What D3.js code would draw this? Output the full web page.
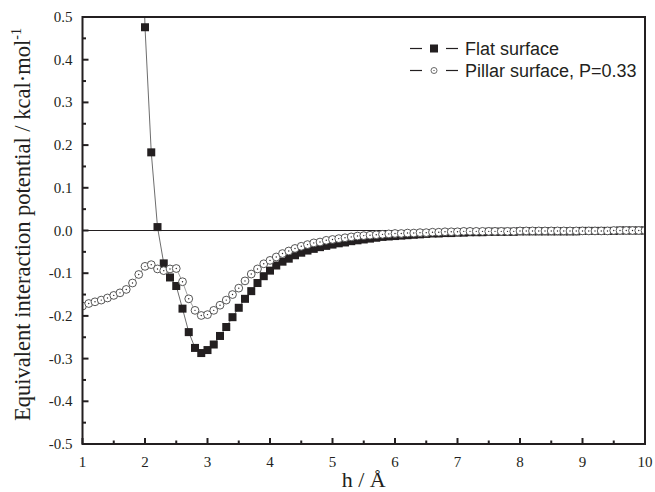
<!DOCTYPE html>
<html lang="en">
<head>
    <meta charset="UTF-8">
    <title>Equivalent interaction potential</title>
    <style>
        body { margin: 0; background: #fff; }
        svg { display: block; }
        .tick-label { font-family: "Liberation Serif", "Times New Roman", serif; font-size: 15px; fill: #231f20; }
        .axis-title { font-family: "Liberation Serif", "Times New Roman", serif; fill: #231f20; }
        .legend text { font-family: "Liberation Sans", Arial, sans-serif; font-size: 18px; fill: #231f20; }
    </style>
</head>
<body>

<svg width="655" height="492"></svg>

<script src="https://d3js.org/d3.v7.min.js"></script>
<script>
    // Flat surface: h = 1.9 .. 10.0 step 0.1 (first point lies above the plot and is clipped)
    const flatStart = 1.9;
    const flatValues = [
        1.05, 0.476, 0.183, 0.008, -0.077, -0.110, -0.130, -0.183, -0.238, -0.275,
        -0.287, -0.280, -0.267, -0.247, -0.226, -0.203, -0.181, -0.160, -0.142, -0.123,
        -0.107, -0.094, -0.082, -0.073, -0.066, -0.058, -0.052, -0.047, -0.043, -0.039,
        -0.036, -0.033, -0.030, -0.028, -0.025, -0.023, -0.021, -0.019, -0.017, -0.015,
        -0.014, -0.013, -0.012, -0.011, -0.010, -0.009, -0.008, -0.007, -0.007, -0.006,
        -0.006, -0.005, -0.005, -0.004, -0.004, -0.004, -0.003, -0.003, -0.003, -0.003,
        -0.003, -0.002, -0.002, -0.002, -0.002, -0.002, -0.002, -0.002, -0.002, -0.002,
        -0.002, -0.001, -0.001, -0.001, -0.001, -0.001, -0.001, 0.000, 0.000, 0.000,
        0.000, 0.000
    ];

    // Pillar surface, P=0.33: h = 1.0 .. 10.0 step 0.1
    const pillarStart = 1.0;
    const pillarValues = [
        -0.177, -0.171, -0.167, -0.163, -0.158, -0.152, -0.146, -0.138, -0.123, -0.103,
        -0.084, -0.080, -0.090, -0.094, -0.090, -0.089, -0.120, -0.160, -0.187, -0.199,
        -0.197, -0.187, -0.175, -0.163, -0.150, -0.135, -0.118, -0.102, -0.090, -0.078,
        -0.070, -0.062, -0.054, -0.048, -0.042, -0.037, -0.033, -0.029, -0.027, -0.023,
        -0.021, -0.019, -0.017, -0.015, -0.013, -0.012, -0.011, -0.010, -0.009, -0.008,
        -0.007, -0.007, -0.006, -0.006, -0.005, -0.005, -0.004, -0.004, -0.003, -0.003,
        -0.003, -0.002, -0.002, -0.002, -0.002, -0.002, -0.002, -0.002, -0.002, -0.002,
        -0.001, -0.001, -0.001, -0.001, -0.001, -0.001, -0.001, -0.001, -0.001, -0.001,
        -0.001, -0.001, -0.001, -0.001, -0.001, 0.000, 0.000, 0.000, 0.000, 0.000,
        0.000
    ];

    const xTicks = [1, 2, 3, 4, 5, 6, 7, 8, 9, 10];
    const yTicks = [-0.5, -0.4, -0.3, -0.2, -0.1, 0.0, 0.1, 0.2, 0.3, 0.4, 0.5];
    const legendLabels = ["Flat surface", "Pillar surface, P=0.33"];

    const flat = flatValues.map((v, i) => ({ h: +(flatStart + i * 0.1).toFixed(1), v: v }));
    const pillar = pillarValues.map((v, i) => ({ h: +(pillarStart + i * 0.1).toFixed(1), v: v }));

    const pLeft = 82.5, pRight = 645, pTop = 17, pBottom = 444;
    const x = d3.scaleLinear().domain([1, 10]).range([pLeft, pRight]);
    const y = d3.scaleLinear().domain([-0.5, 0.5]).range([pBottom, pTop]);

    const svg = d3.select('svg');
    const ink = "#231f20";

    svg.append('defs').append('clipPath').attr('id', 'plot-clip')
        .append('rect').attr('x', pLeft).attr('y', pTop).attr('width', pRight - pLeft).attr('height', pBottom - pTop);

    // zero line
    svg.append('line')
        .attr('x1', pLeft).attr('x2', pRight)
        .attr('y1', y(0)).attr('y2', y(0))
        .attr('stroke', ink).attr('stroke-width', 1.2);

    const plot = svg.append('g').attr('clip-path', 'url(#plot-clip)');
    const line = d3.line().x(d => x(d.h)).y(d => y(d.v));

    plot.append('path').datum(flat)
        .attr('d', line).attr('fill', 'none')
        .attr('stroke', '#6d6d6d').attr('stroke-width', 1);

    plot.append('g').selectAll('rect').data(flat).enter().append('rect')
        .attr('x', d => x(d.h) - 4).attr('y', d => y(d.v) - 4)
        .attr('width', 8).attr('height', 8)
        .attr('fill', ink);

    plot.append('path').datum(pillar)
        .attr('d', line).attr('fill', 'none')
        .attr('stroke', '#8a8a8a').attr('stroke-width', 0.8);

    const pts = plot.append('g').selectAll('g').data(pillar).enter().append('g')
        .attr('transform', d => `translate(${x(d.h)},${y(d.v)})`);
    pts.append('circle').attr('r', 3.9)
        .attr('fill', '#fff').attr('stroke', '#444').attr('stroke-width', 0.9);
    pts.append('circle').attr('r', 0.7).attr('fill', ink);

    // axes frame
    svg.append('rect')
        .attr('x', pLeft).attr('y', pTop).attr('width', pRight - pLeft).attr('height', pBottom - pTop)
        .attr('fill', 'none').attr('stroke', ink).attr('stroke-width', 2);

    // x ticks (inward, with minor halves)
    const xAxis = svg.append('g');
    xTicks.forEach((t, i) => {
        xAxis.append('line').attr('x1', x(t)).attr('x2', x(t))
            .attr('y1', pBottom).attr('y2', pBottom - 6)
            .attr('stroke', ink).attr('stroke-width', 2);
        xAxis.append('text').attr('class', 'tick-label')
            .attr('x', x(t)).attr('y', pBottom + 23)
            .attr('text-anchor', 'middle').text(t);
        if (i < xTicks.length - 1) {
            const m = (t + xTicks[i + 1]) / 2;
            xAxis.append('line').attr('x1', x(m)).attr('x2', x(m))
                .attr('y1', pBottom).attr('y2', pBottom - 3.5)
                .attr('stroke', ink).attr('stroke-width', 2);
        }
    });

    // y ticks
    const yAxis = svg.append('g');
    yTicks.forEach((t, i) => {
        yAxis.append('line').attr('x1', pLeft).attr('x2', pLeft + 6)
            .attr('y1', y(t)).attr('y2', y(t))
            .attr('stroke', ink).attr('stroke-width', 2);
        yAxis.append('text').attr('class', 'tick-label')
            .attr('x', pLeft - 10).attr('y', y(t) + 5)
            .attr('text-anchor', 'end').text(t.toFixed(1));
        if (i < yTicks.length - 1) {
            const m = (t + yTicks[i + 1]) / 2;
            yAxis.append('line').attr('x1', pLeft).attr('x2', pLeft + 3.5)
                .attr('y1', y(m)).attr('y2', y(m))
                .attr('stroke', ink).attr('stroke-width', 2);
        }
    });

    // axis titles
    svg.append('text').attr('class', 'axis-title')
        .attr('x', (pLeft + pRight) / 2).attr('y', 487)
        .attr('text-anchor', 'middle').attr('font-size', 22)
        .text('h / Å');

    const yTitle = svg.append('text').attr('class', 'axis-title')
        .attr('transform', `translate(30,${(pTop + pBottom) / 2 - 6}) rotate(-90)`)
        .attr('text-anchor', 'middle').attr('font-size', 22.5);
    yTitle.append('tspan').text('Equivalent interaction potential / kcal·mol');
    yTitle.append('tspan').attr('dy', -9).attr('font-size', 14).text('-1');

    // legend
    const legend = svg.append('g').attr('class', 'legend');
    const rows = [55, 77];
    legendLabels.forEach((label, i) => {
        const cy = rows[i] - 6.5;
        legend.append('line').attr('x1', 410).attr('x2', 422).attr('y1', cy).attr('y2', cy)
            .attr('stroke', ink).attr('stroke-width', 1.2);
        legend.append('line').attr('x1', 446).attr('x2', 458).attr('y1', cy).attr('y2', cy)
            .attr('stroke', ink).attr('stroke-width', 1.2);
        if (i === 0) {
            legend.append('rect').attr('x', 434 - 4).attr('y', cy - 4)
                .attr('width', 8).attr('height', 8).attr('fill', ink);
        } else {
            legend.append('circle').attr('cx', 434).attr('cy', cy).attr('r', 3)
                .attr('fill', '#fff').attr('stroke', '#444').attr('stroke-width', 0.8);
            legend.append('circle').attr('cx', 434).attr('cy', cy).attr('r', 0.6).attr('fill', ink);
        }
        legend.append('text').attr('x', 465).attr('y', rows[i]).text(label);
    });
</script>
</body>
</html>
